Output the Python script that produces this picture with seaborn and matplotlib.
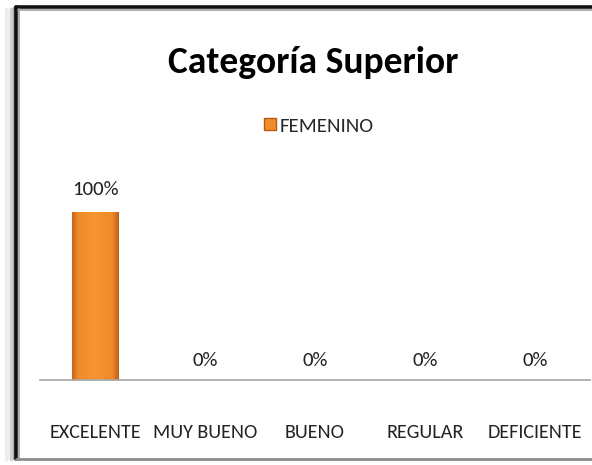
import matplotlib
matplotlib.use("Agg")
import matplotlib.pyplot as plt
import numpy as np
import pandas as pd
import seaborn as sns
from matplotlib.colors import LinearSegmentedColormap
from matplotlib.lines import Line2D
from matplotlib.patches import Patch

categories = ["EXCELENTE", "MUY BUENO", "BUENO", "REGULAR", "DEFICIENTE"]
femenino = [100, 0, 0, 0, 0]
value_labels = ["100%", "0%", "0%", "0%", "0%"]
series_name = "FEMENINO"
title = "Categoría Superior"

W, H = 592, 465
FONT = ["Carlito", "Liberation Sans Narrow", "DejaVu Sans"]

sns.set_theme(style="white")
plt.rcParams["font.family"] = FONT

df = pd.DataFrame({"categoria": categories, "valor": femenino, "serie": series_name})

fig = plt.figure(figsize=(W / 100, H / 100), dpi=100)
fig.patch.set_facecolor("white")


def px(x, y):
    return x / W, 1 - y / H


ax = fig.add_axes([40 / W, (H - 380) / H, 550 / W, 168 / H])
sns.barplot(data=df, x="categoria", y="valor", hue="serie", palette=["#F28C28"],
            width=0.41, edgecolor="#C0621A", linewidth=0.8, ax=ax, legend=False)

# gradient fill on the bars, darker only near the sides
cmap = LinearSegmentedColormap.from_list(
    "bev", [(0, "#C9661A"), (0.12, "#EE8A2A"), (0.5, "#F8962F"), (0.88, "#EE8A2A"), (1, "#C9661A")])
grad = np.linspace(0, 1, 64).reshape(1, -1)
for bar in ax.patches:
    if bar.get_height() <= 0:
        continue
    x0, w, h = bar.get_x(), bar.get_width(), bar.get_height()
    im = ax.imshow(grad, cmap=cmap, extent=[x0, x0 + w, 0, h], aspect="auto", zorder=bar.get_zorder() + 0.1)
    im.set_clip_path(bar)
ax.set_xlim(-0.5, len(categories) - 0.5)
ax.set_ylim(0, 100)

for i, (v, lab) in enumerate(zip(femenino, value_labels)):
    ax.annotate(lab, (i, v), xytext=(0, 12 if v > 0 else 10), textcoords="offset points",
                ha="center", va="baseline", fontsize=15, color="#222222", clip_on=False)

for s in ["top", "right", "left"]:
    ax.spines[s].set_visible(False)
ax.spines["bottom"].set_color("#A6A6A6")
ax.spines["bottom"].set_linewidth(1.2)
ax.set_yticks([])
ax.set_xlabel("")
ax.set_ylabel("")
ax.tick_params(axis="x", length=0, pad=32, labelsize=14.5, labelcolor="#222222")

fig.text(*px(313, 73), title, ha="center", va="baseline", fontsize=27, fontweight="bold", color="black")

handle = Patch(facecolor="#F28C28", edgecolor="#B45A14")
fig.legend([handle], [series_name], loc="center", bbox_to_anchor=px(319, 126), frameon=False,
           fontsize=15, handlelength=0.55, handleheight=0.55, handletextpad=0.2, borderpad=0)

# frame around the chart
lines = [
    ((14, 14), (8, 459), "#9a9a9a", 1.5),
    ((11, 11), (9, 459), "#cfcfcf", 2.5),
    ((7, 7), (10, 459), "#ececec", 3),
    ((16, 16), (7, 459), "#111111", 2.6),
    ((16, 600), (7, 7), "#111111", 2.6),
    ((18.5, 18.5), (9.5, 458), "#a0a0a0", 1.2),
    ((18, 600), (9.8, 9.8), "#a0a0a0", 1.2),
    ((16, 600), (459, 459), "#8c8c8c", 2.0),
]
for xs, ys, c, lw in lines:
    fx = [x / W for x in xs]
    fy = [1 - y / H for y in ys]
    fig.add_artist(Line2D(fx, fy, color=c, linewidth=lw, transform=fig.transFigure))

fig.savefig("out.png", dpi=100)
